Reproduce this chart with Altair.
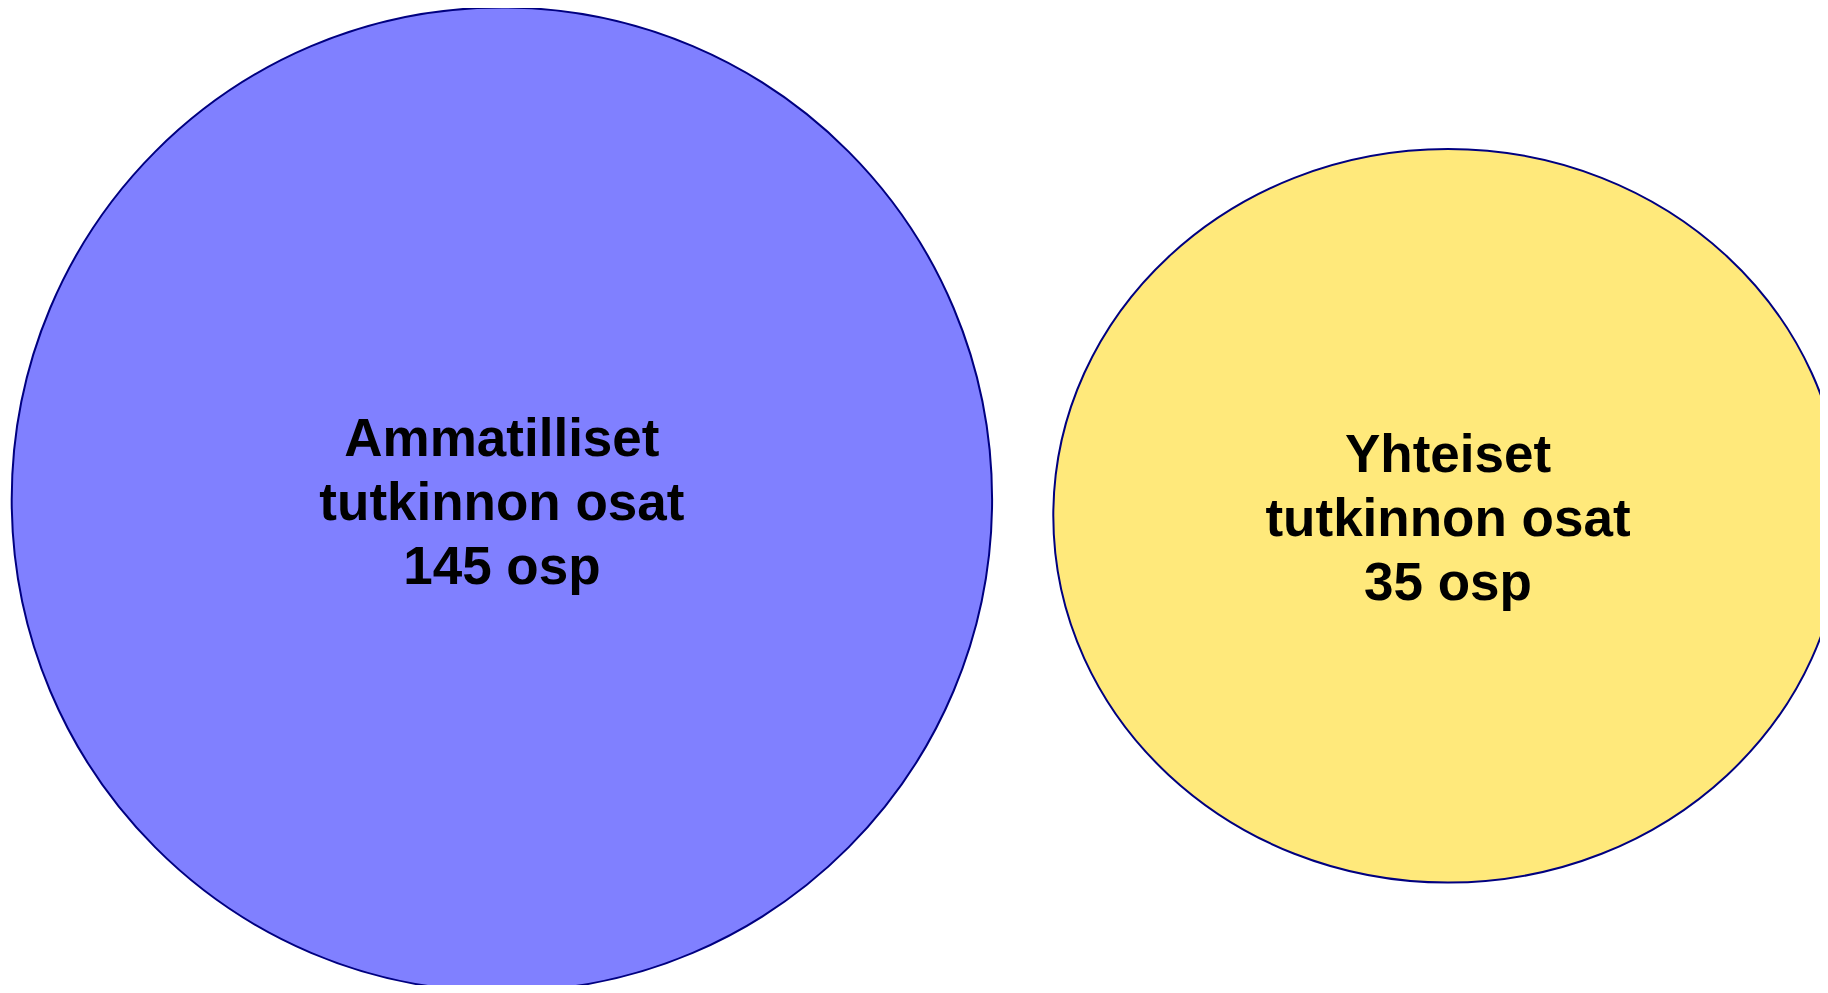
import altair as alt
import pandas as pd

# Data
names = ["Ammatilliset", "Yhteiset"]
titles = ["Ammatilliset\ntutkinnon osat", "Yhteiset\ntutkinnon osat"]
credits = [145, 35]
unit = "osp"

# Layout (page pixel coordinates of ellipse centres and radii)
cx = [501.9, 1448.0]
cy = [499.5, 515.8]
rx = [490.2, 394.7]
ry = [492.0, 366.8]
fills = ["#8080FF", "#FFE97B"]
stroke_col = "#000080"

W, H = 1812, 977


def ellipse_path(a, b):
    return (f"M {-a} 0 A {a} {b} 0 1 1 {a} 0 "
            f"A {a} {b} 0 1 1 {-a} 0 Z")


paths = [ellipse_path(a, b) for a, b in zip(rx, ry)]

df = pd.DataFrame({
    "name": names,
    "x": cx,
    "y": cy,
    "label": [f"{t}\n{c} {unit}" for t, c in zip(titles, credits)],
})

xs = alt.Scale(domain=[8, 8 + W], range=[0, W])
ys = alt.Scale(domain=[8, 8 + H], range=[0, H])

base = alt.Chart(df).encode(
    x=alt.X("x:Q", scale=xs, axis=None),
    y=alt.Y("y:Q", scale=ys, axis=None),
)

ellipses = base.mark_point(
    size=4, opacity=1, fillOpacity=1, filled=False,
    stroke=stroke_col, strokeWidth=2, strokeOpacity=1,
).encode(
    shape=alt.Shape("name:N", scale=alt.Scale(domain=names, range=paths), legend=None),
    fill=alt.Fill("name:N", scale=alt.Scale(domain=names, range=fills), legend=None),
)

texts = base.mark_text(
    font="Liberation Sans", fontWeight="bold", fontSize=53, lineHeight=64,
    align="center", baseline="middle", color="black", lineBreak="\n",
    dy=-60,
).encode(text="label:N")

chart = (ellipses + texts).properties(
    width=W, height=H, padding=0, background="white",
    autosize=alt.AutoSizeParams(type="none"),
).configure_view(stroke=None)

chart.save("out.html", embed_options={"renderer": "svg", "actions": False})
